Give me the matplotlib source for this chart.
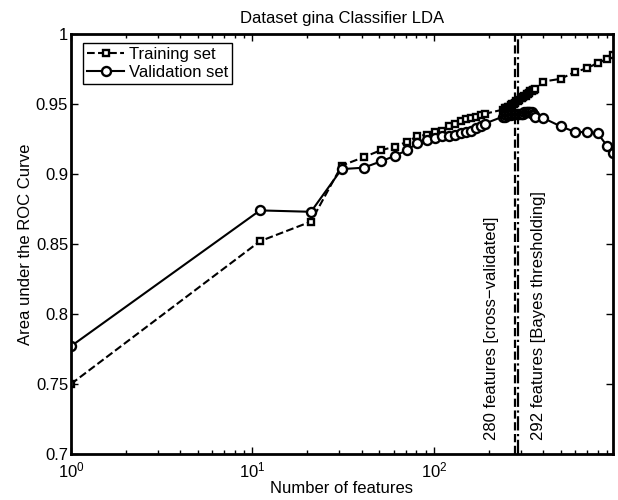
import numpy as np
import matplotlib
matplotlib.use('Agg')
import matplotlib.pyplot as plt
from matplotlib.ticker import FixedLocator, FixedFormatter

plt.rcParams['font.family'] = ['Liberation Sans', 'DejaVu Sans']

# число признаков
n_features = [1, 11, 21, 31, 41, 51, 61, 71, 81, 91, 101, 111, 121, 131, 141, 151, 161, 171, 181, 191,
              240, 245, 250, 255, 260, 265, 270, 275, 280, 285, 290, 295, 300, 305, 310, 315, 320,
              325, 330, 335, 340, 345, 350, 355, 360,
              400, 500, 600, 700, 800, 900, 970]

auc_train = [0.750, 0.852, 0.866, 0.906, 0.912, 0.917, 0.9195, 0.923, 0.927, 0.928, 0.930, 0.931,
             0.934, 0.936, 0.938, 0.939, 0.940, 0.941, 0.942, 0.943,
             0.946, 0.947, 0.947, 0.948, 0.948, 0.949, 0.950, 0.950, 0.951, 0.952, 0.952, 0.953,
             0.954, 0.954, 0.955, 0.956, 0.956, 0.957, 0.957, 0.958, 0.959, 0.959, 0.960, 0.960, 0.961,
             0.966, 0.968, 0.973, 0.9755, 0.9795, 0.982, 0.985]

auc_valid = [0.777, 0.874, 0.873, 0.9035, 0.9045, 0.909, 0.913, 0.917, 0.922, 0.9245, 0.926, 0.927,
             0.927, 0.928, 0.929, 0.930, 0.931, 0.933, 0.934, 0.936,
             0.941, 0.941, 0.942, 0.942, 0.942, 0.942, 0.943, 0.943, 0.943, 0.943, 0.943, 0.943,
             0.943, 0.943, 0.943, 0.944, 0.944, 0.944, 0.9445, 0.9445, 0.9445, 0.944, 0.943, 0.942, 0.941,
             0.940, 0.934, 0.930, 0.930, 0.929, 0.920, 0.915]

cv_features = 280
bayes_features = 292

y_ticks = [0.7, 0.75, 0.8, 0.85, 0.9, 0.95, 1.0]
y_tick_labels = ['0.7', '0.75', '0.8', '0.85', '0.9', '0.95', '1']

FS = 12


def draw():
    fig = plt.figure(figsize=(6.18, 5.0), dpi=100)
    ax = fig.add_axes([71 / 618, 1 - 454 / 500, 542 / 618, 420 / 500])

    ax.plot(n_features, auc_train, 'k--s', lw=1.5, ms=5, mfc='white', mew=1.7,
            label='Training set')
    ax.plot(n_features, auc_valid, 'k-o', lw=1.5, ms=6.5, mfc='white', mew=1.7,
            label='Validation set')

    ax.axvline(cv_features, color='k', ls='--', lw=1.6)
    ax.axvline(bayes_features, color='k', ls='-.', lw=1.6)

    ax.text(208, 0.71, f'{cv_features} features [cross\u2212validated]', rotation=90,
            ha='center', va='bottom', fontsize=FS)
    ax.text(378, 0.71, f'{bayes_features} features [Bayes thresholding]', rotation=90,
            ha='center', va='bottom', fontsize=FS)

    ax.set_xscale('log')
    ax.set_xlim(1, 970)
    ax.set_ylim(0.7, 1.0)
    ax.yaxis.set_major_locator(FixedLocator(y_ticks))
    ax.yaxis.set_major_formatter(FixedFormatter(y_tick_labels))

    ax.tick_params(which='both', direction='in', top=True, right=True, labelsize=FS)
    ax.tick_params(axis='x', pad=5)
    ax.tick_params(axis='y', pad=2)
    ax.tick_params(which='major', length=5, width=1)
    ax.tick_params(which='minor', length=3, width=1)
    for spine in ax.spines.values():
        spine.set_linewidth(2)

    ax.set_title('Dataset gina Classifier LDA', fontsize=FS, pad=8)
    ax.set_xlabel('Number of features', fontsize=FS, labelpad=0)
    ax.set_ylabel('Area under the ROC Curve', fontsize=FS, labelpad=2)

    leg = ax.legend(loc='upper left', bbox_to_anchor=(12 / 542, 1 - 9 / 420), borderaxespad=0,
                    fancybox=False, framealpha=1, edgecolor='k', fontsize=FS,
                    handlelength=2.2, handletextpad=0.3, borderpad=0.25, labelspacing=0.15)
    leg.get_frame().set_linewidth(1)

    fig.savefig('out.png', dpi=100)


if __name__ == '__main__':
    draw()
